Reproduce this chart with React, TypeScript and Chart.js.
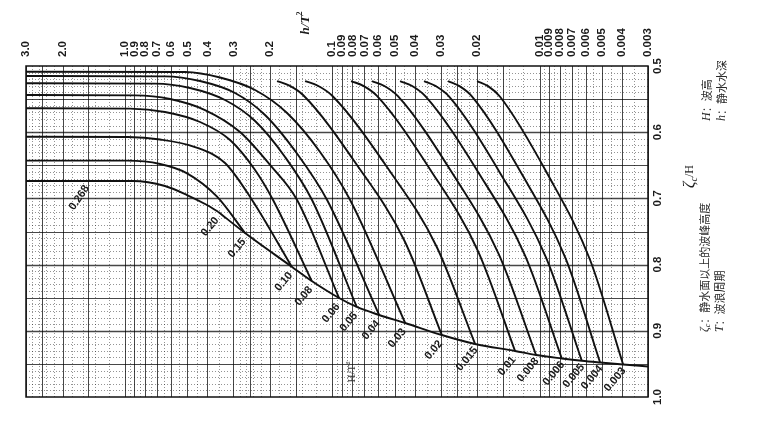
import React, { useEffect, useRef } from 'react';
import { Chart, registerables } from 'chart.js';
Chart.register(...registerables);

// ---- axis ticks ----
const xTickValues = [3, 2, 1, 0.9, 0.8, 0.7, 0.6, 0.5, 0.4, 0.3, 0.2, 0.1, 0.09, 0.08, 0.07, 0.06, 0.05, 0.04, 0.03, 0.02, 0.01, 0.009, 0.008, 0.007, 0.006, 0.005, 0.004, 0.003];
const xTickLabels = ['3.0', '2.0', '1.0', '0.9', '0.8', '0.7', '0.6', '0.5', '0.4', '0.3', '0.2', '0.1', '0.09', '0.08', '0.07', '0.06', '0.05', '0.04', '0.03', '0.02', '0.01', '0.009', '0.008', '0.007', '0.006', '0.005', '0.004', '0.003'];
const yTickValues = [0.5, 0.6, 0.7, 0.8, 0.9, 1.0];
const yTickLabels = ['0.5', '0.6', '0.7', '0.8', '0.9', '1.0'];
const gridDecades = [0.001, 0.01, 0.1, 1];
const gridMajorMult = [1, 1.5, 2, 2.5, 3, 4, 5, 6, 7, 8, 9];
const gridMinorMult = [1.2, 1.4, 1.6, 1.8, 2.2, 2.4, 2.6, 2.8, 3.5, 4.5, 5.5, 6.5, 7.5, 8.5, 9.5];

// ---- curves: [h/T^2, zeta_c/H] for each H/T^2 ----
const curve_0_20: [number, number][] = [[3.0, 0.6737], [0.914, 0.6737], [0.641, 0.6813], [0.5016, 0.6949], [0.4018, 0.71], [0.3555, 0.7201]];
const curve_0_15: [number, number][] = [[3.0, 0.643], [0.977, 0.643], [0.677, 0.648], [0.5016, 0.6621], [0.3594, 0.6974], [0.2634, 0.7523]];
const curve_0_10: [number, number][] = [[3.0, 0.6068], [0.966, 0.6073], [0.677, 0.611], [0.459, 0.6224], [0.329, 0.6465], [0.2437, 0.7024], [0.1568, 0.8032]];
const curve_0_08: [number, number][] = [[3.0, 0.5639], [0.945, 0.5644], [0.641, 0.5695], [0.4342, 0.5846], [0.3112, 0.6118], [0.2357, 0.6571], [0.193, 0.7024], [0.1256, 0.8248]];
const curve_0_06: [number, number][] = [[3.0, 0.5438], [0.894, 0.5443], [0.606, 0.5498], [0.4108, 0.5665], [0.2785, 0.5997], [0.1996, 0.6495], [0.1478, 0.7024], [0.0927, 0.8505]];
const curve_0_05: [number, number][] = [[3.0, 0.5261], [0.716, 0.5266], [0.4853, 0.5332], [0.329, 0.5514], [0.2357, 0.5831], [0.1689, 0.6375], [0.1252, 0.7024], [0.0762, 0.864]];
const curve_0_04: [number, number][] = [[3.0, 0.5151], [0.641, 0.5156], [0.4342, 0.5227], [0.2944, 0.5408], [0.211, 0.574], [0.1462, 0.6344], [0.1059, 0.7024], [0.0594, 0.8761]];
const curve_0_03: [number, number][] = [[3.0, 0.5086], [0.513, 0.5091], [0.3477, 0.5174], [0.2357, 0.5363], [0.1652, 0.571], [0.1145, 0.6299], [0.082, 0.7024], [0.0445, 0.8882]];
const curve_0_02: [number, number][] = [[0.1846, 0.5227], [0.1609, 0.5296], [0.1383, 0.5438], [0.076, 0.6495], [0.04479, 0.7644], [0.02963, 0.9063]];
const curve_0_015: [number, number][] = [[0.1352, 0.5227], [0.1173, 0.5298], [0.1003, 0.5446], [0.05404, 0.6541], [0.03136, 0.773], [0.02047, 0.9199]];
const curve_0_01: [number, number][] = [[0.08116, 0.5227], [0.07079, 0.5301], [0.06086, 0.5452], [0.03349, 0.6577], [0.01982, 0.7795], [0.01313, 0.9305]];
const curve_0_008: [number, number][] = [[0.06427, 0.5227], [0.05607, 0.5302], [0.04823, 0.5456], [0.02652, 0.6606], [0.0157, 0.785], [0.0104, 0.9366]];
const curve_0_006: [number, number][] = [[0.04709, 0.5227], [0.04118, 0.5302], [0.03548, 0.5458], [0.01967, 0.6616], [0.01172, 0.7872], [0.007814, 0.9418]];
const curve_0_005: [number, number][] = [[0.03608, 0.5227], [0.03165, 0.5304], [0.02736, 0.5459], [0.01541, 0.663], [0.009294, 0.7897], [0.006259, 0.9453]];
const curve_0_004: [number, number][] = [[0.02763, 0.5227], [0.02434, 0.5304], [0.02116, 0.5461], [0.01216, 0.6636], [0.007483, 0.7911], [0.005107, 0.9479]];
const curve_0_003: [number, number][] = [[0.02002, 0.5227], [0.01772, 0.5304], [0.01551, 0.5464], [0.009099, 0.6647], [0.005706, 0.7931], [0.003955, 0.9509]];
const breakingLimit: [number, number][] = [[0.3555, 0.7201], [0.2634, 0.7523], [0.1568, 0.8032], [0.1256, 0.8248], [0.0927, 0.8505], [0.0762, 0.864], [0.0594, 0.8761], [0.0445, 0.8882], [0.02963, 0.9063], [0.02047, 0.9199], [0.01313, 0.9305], [0.0104, 0.9366], [0.007814, 0.9418], [0.006259, 0.9453], [0.005107, 0.9479], [0.003955, 0.9509], [0.003, 0.9539]];

const curves = [curve_0_20, curve_0_15, curve_0_10, curve_0_08, curve_0_06, curve_0_05, curve_0_04, curve_0_03, curve_0_02, curve_0_015, curve_0_01, curve_0_008, curve_0_006, curve_0_005, curve_0_004, curve_0_003];
const curveLabels = ['0.20', '0.15', '0.10', '0.08', '0.06', '0.05', '0.04', '0.03', '0.02', '0.015', '0.01', '0.008', '0.006', '0.005', '0.004', '0.003'];
// free annotations: [text, h/T^2, zeta]
const extraLabel268: [string, number, number] = ['0.268', 1.66, 0.699];
const htLabelPos: [number, number] = [0.0803, 0.962];

const TICK_FONT = 'bold 11.5px "Liberation Sans Narrow", "Liberation Sans", Arial, sans-serif';
const LABEL_FONT = 'bold 11px "Liberation Sans", Arial, sans-serif';
const CJK = '"Noto Sans CJK SC", sans-serif';
const SERIF_I = 'italic 12px "Liberation Serif", "DejaVu Serif", serif';

type Run = { text: string; font: string; dy?: number };
function drawRuns(ctx: CanvasRenderingContext2D, runs: Run[], x: number, y: number, angle: number, align: 'left' | 'center' | 'right', color = '#1a1a1a') {
  ctx.save();
  ctx.translate(x, y);
  ctx.rotate(angle);
  ctx.textAlign = 'left';
  ctx.textBaseline = 'middle';
  ctx.fillStyle = color;
  const widths = runs.map((r) => { ctx.font = r.font; return ctx.measureText(r.text).width; });
  const total = widths.reduce((a, b) => a + b, 0);
  let cx = align === 'center' ? -total / 2 : align === 'right' ? -total : 0;
  runs.forEach((r, i) => {
    ctx.font = r.font;
    ctx.fillText(r.text, cx, r.dy || 0);
    cx += widths[i];
  });
  ctx.restore();
}

const gridPlugin = {
  id: 'gridPlugin',
  beforeDatasetsDraw(chart: any) {
    const { ctx, chartArea } = chart;
    const { left, right, top, bottom } = chartArea;
    const xs = chart.scales.x;
    const ys = chart.scales.y;
    ctx.save();
    ctx.lineWidth = 1;
    // minor dotted
    ctx.setLineDash([1, 2]);
    ctx.strokeStyle = 'rgba(0,0,0,0.42)';
    gridDecades.forEach((d) => gridMinorMult.forEach((m) => {
      const v = d * m;
      if (v < 0.003 || v > 3) return;
      const px = Math.round(xs.getPixelForValue(v)) + 0.5;
      ctx.beginPath(); ctx.moveTo(px, top); ctx.lineTo(px, bottom); ctx.stroke();
    }));
    for (let i = 1; i < 50; i++) {
      if (i % 5 === 0) continue;
      const py = Math.round(ys.getPixelForValue(0.5 + i * 0.01)) + 0.5;
      ctx.beginPath(); ctx.moveTo(left, py); ctx.lineTo(right, py); ctx.stroke();
    }
    // major solid
    ctx.setLineDash([]);
    ctx.strokeStyle = 'rgba(0,0,0,0.72)';
    gridDecades.forEach((d) => gridMajorMult.forEach((m) => {
      const v = d * m;
      if (v < 0.003 || v > 3) return;
      const px = Math.round(xs.getPixelForValue(v)) + 0.5;
      ctx.beginPath(); ctx.moveTo(px, top); ctx.lineTo(px, bottom); ctx.stroke();
    }));
    for (let i = 1; i < 10; i++) {
      const py = Math.round(ys.getPixelForValue(0.5 + i * 0.05)) + 0.5;
      ctx.lineWidth = i % 2 === 0 ? 1.3 : 1;
      ctx.beginPath(); ctx.moveTo(left, py); ctx.lineTo(right, py); ctx.stroke();
    }
    ctx.restore();
  },
  afterDatasetsDraw(chart: any) {
    const { ctx, chartArea } = chart;
    const { left, right, top, bottom } = chartArea;
    const xs = chart.scales.x;
    const ys = chart.scales.y;
    ctx.save();
    // frame
    ctx.strokeStyle = '#111';
    ctx.lineWidth = 1.5;
    ctx.strokeRect(left, top, right - left, bottom - top);
    // top tick labels
    xTickValues.forEach((v, i) => {
      const px = xs.getPixelForValue(v);
      drawRuns(ctx, [{ text: xTickLabels[i], font: TICK_FONT }], px, top - 9, -Math.PI / 2, 'left');
    });
    // right tick labels
    yTickValues.forEach((v, i) => {
      const py = ys.getPixelForValue(v);
      drawRuns(ctx, [{ text: yTickLabels[i], font: TICK_FONT }], right + 10, py, -Math.PI / 2, 'center');
    });
    // axis titles
    drawRuns(ctx, [
      { text: 'h/T', font: 'italic bold 13px "Liberation Serif", serif' },
      { text: '2', font: 'bold 8px "Liberation Serif", serif', dy: -5 },
    ], xs.getPixelForValue(0.135), 23, -Math.PI / 2, 'center');
    drawRuns(ctx, [
      { text: 'ζ', font: 'italic 16px "Liberation Serif", "DejaVu Serif", serif' },
      { text: 'c', font: 'italic 10px "Liberation Serif", serif', dy: 4 },
      { text: '/H', font: '12px "Liberation Serif", serif' },
    ], right + 42, ys.getPixelForValue(0.667), -Math.PI / 2, 'center');
    // curve labels
    curves.forEach((c, i) => {
      const end = c[c.length - 1];
      const px = xs.getPixelForValue(end[0]) - 8;
      const py = ys.getPixelForValue(end[1]) + 15;
      drawRuns(ctx, [{ text: curveLabels[i], font: LABEL_FONT }], px, py, -50 * Math.PI / 180, 'center');
    });
    drawRuns(ctx, [{ text: extraLabel268[0], font: LABEL_FONT }], xs.getPixelForValue(extraLabel268[1]), ys.getPixelForValue(extraLabel268[2]), -56 * Math.PI / 180, 'center');
    drawRuns(ctx, [
      { text: 'H/T', font: '11px "Liberation Serif", serif' },
      { text: '2', font: '7px "Liberation Serif", serif', dy: -4 },
    ], xs.getPixelForValue(htLabelPos[0]), ys.getPixelForValue(htLabelPos[1]), -Math.PI / 2, 'center', '#333');
    // legend texts
    const cjk = '11px ' + CJK;
    drawRuns(ctx, [
      { text: 'ζ', font: SERIF_I },
      { text: 'c', font: 'italic 8px "Liberation Serif", serif', dy: 3 },
      { text: '：静水面以上的波峰高度', font: cjk },
    ], right + 57, ys.getPixelForValue(0.9019), -Math.PI / 2, 'left', '#2a2a2a');
    drawRuns(ctx, [
      { text: 'T', font: SERIF_I },
      { text: '：波浪周期', font: cjk },
    ], right + 72, ys.getPixelForValue(0.9019), -Math.PI / 2, 'left', '#2a2a2a');
    drawRuns(ctx, [
      { text: 'H', font: SERIF_I },
      { text: '：波高', font: cjk },
    ], right + 59, ys.getPixelForValue(0.5831), -Math.PI / 2, 'left', '#2a2a2a');
    drawRuns(ctx, [
      { text: 'h', font: SERIF_I },
      { text: '：静水水深', font: cjk },
    ], right + 74, ys.getPixelForValue(0.5831), -Math.PI / 2, 'left', '#2a2a2a');
    ctx.restore();
  },
};

export default function App() {
  const ref = useRef<HTMLCanvasElement | null>(null);
  useEffect(() => {
    document.body.style.margin = '0';
    const canvas = ref.current;
    if (!canvas) return;
    const lineStyle = {
      borderColor: '#111',
      borderWidth: 1.9,
      pointRadius: 0,
      showLine: true,
      fill: false,
      cubicInterpolationMode: 'monotone' as const,
    };
    const datasets: any[] = curves.map((c, i) => ({
      label: 'H/T² = ' + curveLabels[i],
      data: c.map(([x, y]) => ({ x, y })),
      ...lineStyle,
    }));
    datasets.push({
      label: 'breaking limit',
      data: breakingLimit.map(([x, y]) => ({ x, y })),
      ...lineStyle,
    });
    const chart = new Chart(canvas, {
      type: 'scatter',
      data: { datasets },
      options: {
        animation: false,
        responsive: false,
        maintainAspectRatio: false,
        layout: { padding: { left: 26, right: 116, top: 66, bottom: 31 } },
        plugins: { legend: { display: false }, tooltip: { enabled: false } },
        scales: {
          x: { type: 'logarithmic', min: 0.003, max: 3, reverse: true, display: false },
          y: { type: 'linear', min: 0.5, max: 1.0, reverse: true, display: false },
        },
      },
      plugins: [gridPlugin],
    });
    return () => chart.destroy();
  }, []);
  return (
    <div style={{ width: 764, height: 428, background: '#fff' }}>
      <canvas ref={ref} width={764} height={428} style={{ display: 'block' }} />
    </div>
  );
}
